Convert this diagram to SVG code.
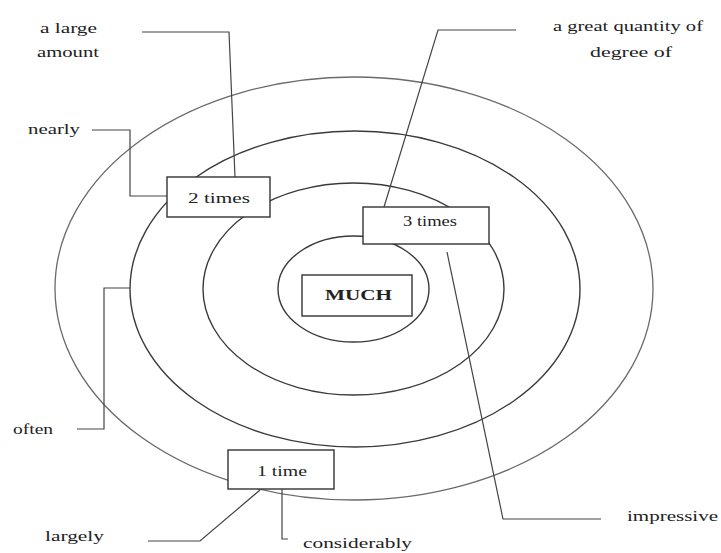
<svg xmlns="http://www.w3.org/2000/svg" width="721" height="553" viewBox="0 0 721 553">
<style>
.ring{fill:none;stroke:#3a3a3a;stroke-width:1.4}
.outer{fill:none;stroke:#6a6a6a;stroke-width:1.3}
.conn{fill:none;stroke:#444;stroke-width:1.2}
.box{fill:#fff;stroke:#333;stroke-width:1.4}
text{font-family:"Liberation Serif","Times New Roman",serif;font-size:14px;fill:#222}
.c{text-anchor:middle}
.b{font-weight:bold;font-size:15px}
</style>
<rect width="721" height="553" fill="#fff"/>
<g id="rings">
<ellipse class="outer" cx="354" cy="288.5" rx="299" ry="211.5"/>
<ellipse class="ring" cx="355" cy="289" rx="225" ry="158"/>
<ellipse class="ring" cx="353.5" cy="289" rx="150.5" ry="106"/>
<ellipse class="ring" cx="353.5" cy="289" rx="75.5" ry="53"/>
</g>
<g id="connectors">
<polyline class="conn" points="142,32 229,32 235,177"/>
<polyline class="conn" points="92,130 130,130 130,196 167,196"/>
<polyline class="conn" points="516,30 438,30 384,207"/>
<polyline class="conn" points="447,252 503,519 601,519"/>
<polyline class="conn" points="77,429 104,429 104,288 130,288"/>
<polyline class="conn" points="148,541 200,541 260,490"/>
<polyline class="conn" points="282,489 282,539 288,539"/>
</g>
<g id="node-much">
<rect class="box" x="302" y="275" width="110" height="41"/>
<text class="b" x="325" y="300" textLength="67" lengthAdjust="spacingAndGlyphs">MUCH</text>
</g>
<g id="node-2times">
<rect class="box" x="167" y="177" width="103" height="40"/>
<text x="188" y="203" textLength="62" lengthAdjust="spacingAndGlyphs">2 times</text>
</g>
<g id="node-3times">
<rect class="box" x="363" y="207" width="126" height="37"/>
<text x="403" y="226" textLength="54" lengthAdjust="spacingAndGlyphs">3 times</text>
</g>
<g id="node-1time">
<rect class="box" x="228" y="450" width="106" height="39"/>
<text x="257" y="476" textLength="50" lengthAdjust="spacingAndGlyphs">1 time</text>
</g>
<g id="label-large-amount">
<text x="40" y="33" textLength="57" lengthAdjust="spacingAndGlyphs">a large</text>
<text x="37" y="57" textLength="62" lengthAdjust="spacingAndGlyphs">amount</text>
</g>
<g id="label-nearly"><text x="28" y="134" textLength="52" lengthAdjust="spacingAndGlyphs">nearly</text></g>
<g id="label-great-quantity">
<text x="553" y="31" textLength="150" lengthAdjust="spacingAndGlyphs">a great quantity of</text>
<text x="590" y="57" textLength="82" lengthAdjust="spacingAndGlyphs">degree of</text>
</g>
<g id="label-impressive"><text x="627" y="521" textLength="91" lengthAdjust="spacingAndGlyphs">impressive</text></g>
<g id="label-often"><text x="13" y="434" textLength="40" lengthAdjust="spacingAndGlyphs">often</text></g>
<g id="label-largely"><text x="45" y="541" textLength="59" lengthAdjust="spacingAndGlyphs">largely</text></g>
<g id="label-considerably"><text x="303" y="548" textLength="109" lengthAdjust="spacingAndGlyphs">considerably</text></g>
</svg>
